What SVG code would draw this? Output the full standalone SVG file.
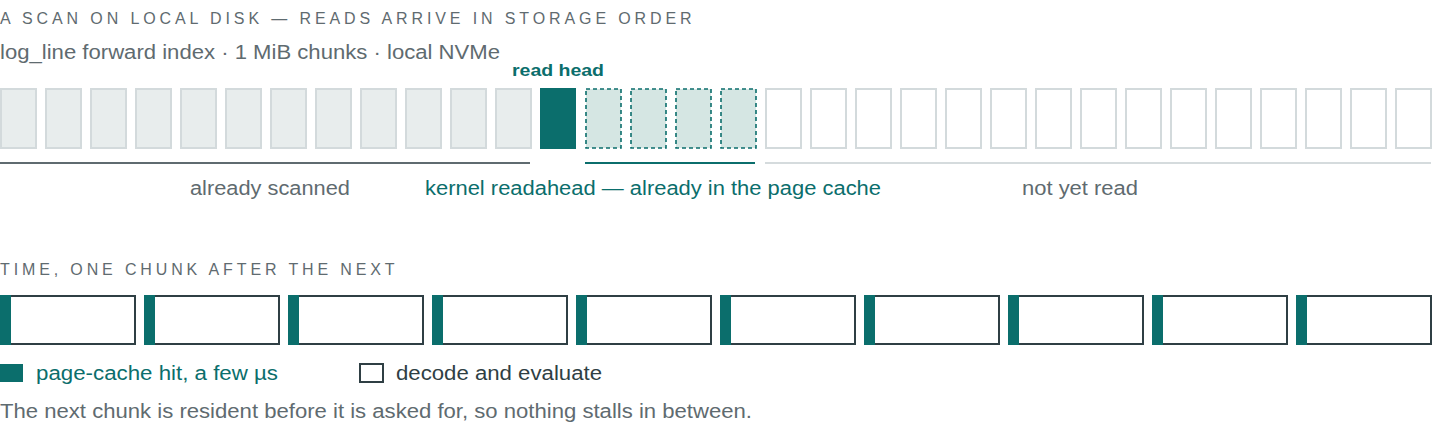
<svg xmlns="http://www.w3.org/2000/svg" width="1440" height="448" viewBox="0 0 1440 448">
<style>
text{font-family:"Helvetica Neue","Liberation Sans",Arial,sans-serif}
.cap{font-size:16px;letter-spacing:1.4px;fill:#5f6b70}
.t{font-size:20px;fill:#5f6b70}
.tl{fill:#0b6e6c}
.done{fill:#e8eded;stroke:#d3dadc;stroke-width:2}
.head{fill:#0b6e6c}
.ra{fill:#d5e6e3;stroke:#0b6e6c;stroke-width:1.6;stroke-dasharray:4 3}
.todo{fill:#fff;stroke:#d3dadc;stroke-width:2}
.box{fill:#fff;stroke:#2f3f44;stroke-width:2}
</style>
<text class="cap" x="0" y="24" textLength="693" lengthAdjust="spacing">A SCAN ON LOCAL DISK — READS ARRIVE IN STORAGE ORDER</text>
<text class="t" x="0" y="59" textLength="500" lengthAdjust="spacingAndGlyphs">log_line forward index · 1 MiB chunks · local NVMe</text>
<text x="512" y="76" textLength="92" lengthAdjust="spacingAndGlyphs" font-size="17" font-weight="bold" fill="#0b6e6c">read head</text>
<g id="chunks">
<rect class="done" x="1" y="89" width="35" height="59"/><rect class="done" x="46" y="89" width="35" height="59"/><rect class="done" x="91" y="89" width="35" height="59"/><rect class="done" x="136" y="89" width="35" height="59"/><rect class="done" x="181" y="89" width="35" height="59"/><rect class="done" x="226" y="89" width="35" height="59"/><rect class="done" x="271" y="89" width="35" height="59"/><rect class="done" x="316" y="89" width="35" height="59"/><rect class="done" x="361" y="89" width="35" height="59"/><rect class="done" x="406" y="89" width="35" height="59"/><rect class="done" x="451" y="89" width="35" height="59"/><rect class="done" x="496" y="89" width="35" height="59"/>
<rect class="head" x="540" y="88" width="36" height="61"/>
<rect class="ra" x="586" y="89" width="35" height="59"/><rect class="ra" x="631" y="89" width="35" height="59"/><rect class="ra" x="676" y="89" width="35" height="59"/><rect class="ra" x="721" y="89" width="35" height="59"/>
<rect class="todo" x="766" y="89" width="35" height="59"/><rect class="todo" x="811" y="89" width="35" height="59"/><rect class="todo" x="856" y="89" width="35" height="59"/><rect class="todo" x="901" y="89" width="35" height="59"/><rect class="todo" x="946" y="89" width="35" height="59"/><rect class="todo" x="991" y="89" width="35" height="59"/><rect class="todo" x="1036" y="89" width="35" height="59"/><rect class="todo" x="1081" y="89" width="35" height="59"/><rect class="todo" x="1126" y="89" width="35" height="59"/><rect class="todo" x="1171" y="89" width="35" height="59"/><rect class="todo" x="1216" y="89" width="35" height="59"/><rect class="todo" x="1261" y="89" width="35" height="59"/><rect class="todo" x="1306" y="89" width="35" height="59"/><rect class="todo" x="1351" y="89" width="35" height="59"/><rect class="todo" x="1396" y="89" width="35" height="59"/>
</g>
<g id="brackets">
<line x1="0" y1="163" x2="530" y2="163" stroke="#5f6b70" stroke-width="2"/>
<line x1="585" y1="163" x2="755" y2="163" stroke="#0b6e6c" stroke-width="2"/>
<line x1="765" y1="163" x2="1431" y2="163" stroke="#d5dbdd" stroke-width="2"/>
</g>
<text class="t" x="190" y="195" textLength="160" lengthAdjust="spacingAndGlyphs">already scanned</text>
<text class="t tl" x="425" y="195" textLength="456" lengthAdjust="spacingAndGlyphs">kernel readahead — already in the page cache</text>
<text class="t" x="1022" y="195" textLength="116" lengthAdjust="spacingAndGlyphs">not yet read</text>
<text class="cap" x="0" y="275" textLength="396" lengthAdjust="spacing">TIME, ONE CHUNK AFTER THE NEXT</text>
<g id="timeline">
<g><rect class="box" x="1" y="296" width="134" height="48"/><rect class="head" x="0" y="295" width="11" height="50"/></g>
<g><rect class="box" x="145" y="296" width="134" height="48"/><rect class="head" x="144" y="295" width="11" height="50"/></g>
<g><rect class="box" x="289" y="296" width="134" height="48"/><rect class="head" x="288" y="295" width="11" height="50"/></g>
<g><rect class="box" x="433" y="296" width="134" height="48"/><rect class="head" x="432" y="295" width="11" height="50"/></g>
<g><rect class="box" x="577" y="296" width="134" height="48"/><rect class="head" x="576" y="295" width="11" height="50"/></g>
<g><rect class="box" x="721" y="296" width="134" height="48"/><rect class="head" x="720" y="295" width="11" height="50"/></g>
<g><rect class="box" x="865" y="296" width="134" height="48"/><rect class="head" x="864" y="295" width="11" height="50"/></g>
<g><rect class="box" x="1009" y="296" width="134" height="48"/><rect class="head" x="1008" y="295" width="11" height="50"/></g>
<g><rect class="box" x="1153" y="296" width="134" height="48"/><rect class="head" x="1152" y="295" width="11" height="50"/></g>
<g><rect class="box" x="1297" y="296" width="134" height="48"/><rect class="head" x="1296" y="295" width="11" height="50"/></g>
</g>
<g id="legend">
<rect class="head" x="0" y="364" width="23" height="18"/>
<text class="t tl" x="36" y="380" textLength="242" lengthAdjust="spacingAndGlyphs">page-cache hit, a few µs</text>
<rect x="360" y="364" width="23" height="18" fill="#fff" stroke="#2f3f44" stroke-width="2"/>
<text class="t" x="396" y="380" style="fill:#2f3f44" textLength="206" lengthAdjust="spacingAndGlyphs">decode and evaluate</text>
</g>
<text class="t" x="0" y="418" textLength="752" lengthAdjust="spacingAndGlyphs">The next chunk is resident before it is asked for, so nothing stalls in between.</text>
</svg>
